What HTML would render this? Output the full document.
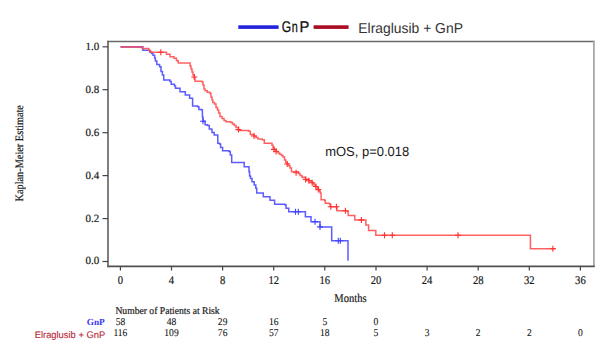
<!DOCTYPE html>
<html><head><meta charset="utf-8"><style>
html,body{margin:0;padding:0;background:#fff;}
body{width:606px;height:360px;overflow:hidden;position:relative;}
svg{position:absolute;left:0;top:0;text-rendering:geometricPrecision;}
.serif{font-family:"Liberation Serif",serif;}
.sans{font-family:"Liberation Sans",sans-serif;}
</style></head><body>
<svg width="606" height="360" viewBox="0 0 606 360">
<rect x="0" y="0" width="606" height="360" fill="#fff"/>
<g fill="none" stroke="#555" stroke-width="1.6">
<path d="M107.2,41.5 H594.5" stroke="#686868" stroke-width="1.5"/>
<path d="M593.9,40.8 V267" stroke="#a8a8a8" stroke-width="1.8"/>
<path d="M107.2,266.4 H594.7" stroke="#505050" stroke-width="1.6"/>
<path d="M108,40.8 V267.2" stroke="#686868" stroke-width="1.7"/>
</g>
<g fill="none" stroke="#444" stroke-width="1.2"><path d="M120.4,266.5v4"/><path d="M171.5,266.5v4"/><path d="M222.6,266.5v4"/><path d="M273.7,266.5v4"/><path d="M324.8,266.5v4"/><path d="M376.0,266.5v4"/><path d="M427.1,266.5v4"/><path d="M478.2,266.5v4"/><path d="M529.3,266.5v4"/><path d="M580.4,266.5v4"/><path d="M102.5,261.5h5.5"/><path d="M102.5,218.6h5.5"/><path d="M102.5,175.6h5.5"/><path d="M102.5,132.7h5.5"/><path d="M102.5,89.7h5.5"/><path d="M102.5,46.8h5.5"/></g>
<g class="serif" font-size="11.8" fill="#1a1a1a" stroke="#1a1a1a" stroke-width="0.2" text-anchor="middle"><text transform="translate(120.40,283.9) scale(0.9,1)">0</text><text transform="translate(171.51,283.9) scale(0.9,1)">4</text><text transform="translate(222.62,283.9) scale(0.9,1)">8</text><text transform="translate(273.74,283.9) scale(0.9,1)">12</text><text transform="translate(324.85,283.9) scale(0.9,1)">16</text><text transform="translate(375.96,283.9) scale(0.9,1)">20</text><text transform="translate(427.07,283.9) scale(0.9,1)">24</text><text transform="translate(478.18,283.9) scale(0.9,1)">28</text><text transform="translate(529.30,283.9) scale(0.9,1)">32</text><text transform="translate(580.41,283.9) scale(0.9,1)">36</text></g>
<g class="serif" font-size="11" fill="#1a1a1a" stroke="#1a1a1a" stroke-width="0.2" text-anchor="end"><text x="99.3" y="264.4">0.0</text><text x="99.3" y="221.5">0.2</text><text x="99.3" y="178.5">0.4</text><text x="99.3" y="135.6">0.6</text><text x="99.3" y="92.6">0.8</text><text x="99.3" y="49.7">1.0</text></g>
<text class="serif" transform="translate(350.4,301.5) scale(0.88,1)" font-size="12" fill="#1a1a1a" stroke="#1a1a1a" stroke-width="0.2" text-anchor="middle">Months</text>
<text class="serif" transform="translate(23.2,153.3) rotate(-90)" font-size="11.4" fill="#1a1a1a" stroke="#1a1a1a" stroke-width="0.2" text-anchor="middle" textLength="96.5" lengthAdjust="spacingAndGlyphs">Kaplan-Meier Estimate</text>
<g fill="none" stroke-linejoin="miter">
<path d="M120.6,46.85 H142.9 V50.3 H149.7 V52 H151.5 V53.6 H153 V55.3 H154.6 V58 H155.4 V61.1 H156.8 V64.6 H159.6 V66.7 H161 V71.5 H162.4 V75 H163.75 V80 H170 V81.5 H171.2 V84.2 H174.5 V86 H175.5 V88.3 H180 V91.7 H185.3 V95 H189.6 V98.3 H192.6 V106 H197.5 V106.7 H198.9 V109.4 H201.7 V110.1 H202.4 V117 H203 V121.25 H205.1 V124.7 H207.5 V125.5 H209.3 V128.9 H211.5 V129.5 H212 V132.4 H214.2 V135.1 H217.6 V135.8 H217.8 V143.2 H219.5 V144 H220.6 V147.4 H222.6 V150.8 H228.9 V151.5 H230.3 V155 H231.7 V162.5 H244.2 V166.8 H249 V171.7 H249.6 V176 H250.5 V178.6 H252 V181.7 H254.2 V185 H255.8 V188.3 H256.7 V193 H263.3 V196.7 H270 V200.3 H274.6 V204.2 H284.8 V204.7 H286 V208.2 H288.75 V211.7 H305.4 V216.8 H311 V221.7 H320 V226.9 H331.7 V240.8 H348 V260.8" stroke="#5c5cff" stroke-width="1.5"/>
<path d="M200,121.25h6M203,118.25v6 M292.5,211.7h6M295.5,208.7v6 M295.3,211.7h6M298.3,208.7v6 M312,221.7h6M315,218.7v6 M317,226.9h6M320,223.9v6 M335.3,240.8h6M338.3,237.8v6 M337.3,240.8h6M340.3,237.8v6" stroke="#4040ff" stroke-width="1.1"/>
<path d="M120.6,46.85 H142.2 V48.5 H148.8 V50.6 H150.5 V52.3 H166.5 V54.2 H170 V56.7 H174 V58.3 H176.5 V60.8 H178.3 V63 H190.1 V66 H191 V69 H192 V72 H193 V75 H194.3 V78 H195 V81.25 H202 V82 H203 V85 H204 V88.9 H205.1 V90.7 H207.2 V92.2 H210 V93.5 H211 V97 H212 V100 H212.8 V102.5 H214.5 V104 H216 V107.4 H217.5 V110 H218.7 V112.9 H220 V116.4 H222 V118.5 H224 V120.6 H226 V121.7 H230.8 V122.5 H232.5 V124 H234.3 V125.4 H236 V127.5 H238.5 V130.6 H248.9 V131.2 H250.3 V134.4 H254 V136 H256 V137.5 H258 V139 H262.2 V139.7 H264.3 V143.2 H269.9 V143.2 H272 V145.3 H273 V147.5 H274 V149.4 H276.1 V151.5 H278 V153 H279.6 V154.3 H281.5 V155.5 H283 V157 H284.5 V160 H285.8 V162.6 H287.2 V164 H288.5 V165.8 H290 V168 H291.5 V171.7 H298.5 V173.5 H300 V175.6 H302 V177.2 H305.6 V179.4 H309 V180.8 H311 V182 H312.5 V183.5 H314 V185 H315.8 V186.7 H317 V188 H318.5 V189.8 H319.5 V191.5 H320.3 V193 H321.1 V199.7 H324.6 V200.4 H325.3 V203.2 H329.4 V203.9 H330.3 V206.7 H336.9 V210.8 H347.5 V211.5 H348.2 V215.4 H354.8 V219.9 H365.9 V224.9 H368.6 V230.6 H375.8 V235.3 H530.4 V248.7 H555.4" stroke="#ff5050" stroke-width="1.5" stroke-opacity="0.9"/>
<path d="M157.8,52.3h6M160.8,49.3v6 M191.3,77h6M194.3,74v6 M235.5,129.6h6M238.5,126.6v6 M251,136h6M254,133v6 M271,149.4h6M274,146.4v6 M273.1,151.5h6M276.1,148.5v6 M284.2,164h6M287.2,161v6 M293.1,172.8h6M296.1,169.8v6 M302.6,179.4h6M305.6,176.4v6 M305.9,180.8h6M308.9,177.8v6 M309.2,182.8h6M312.2,179.8v6 M312.8,186.5h6M315.8,183.5v6 M315.3,189.6h6M318.3,186.6v6 M327.8,206.7h6M330.8,203.7v6 M333.4,206.7h6M336.4,203.7v6 M342.4,210.8h6M345.4,207.8v6 M358.4,219.9h6M361.4,216.9v6 M381.5,235.3h6M384.5,232.3v6 M389.3,235.3h6M392.3,232.3v6 M455,235.3h6M458,232.3v6 M549.9,248.7h6M552.9,245.7v6" stroke="#ff3030" stroke-width="1.1"/>
<path d="M120.6,46.85 H142.4" stroke="#d8507e" stroke-width="1.7"/>
</g>
<text class="sans" x="325.2" y="155.5" font-size="13.3" fill="#1a1a1a" textLength="84" lengthAdjust="spacingAndGlyphs">mOS, p=0.018</text>
<rect x="238.3" y="25.3" width="40.3" height="3.6" fill="#2222dd"/>
<g class="sans" font-size="15.5" fill="#111" stroke="#111" stroke-width="0.3"><text transform="translate(281.8,32) scale(0.78,1)">G</text><text transform="translate(291.8,32) scale(0.7,1)">n</text><text transform="translate(299.5,32) scale(0.95,1)">P</text></g>
<rect x="313.6" y="25.3" width="35" height="3.6" fill="#aa0a22"/>
<text class="sans" x="358.3" y="32.8" font-size="14.3" fill="#333" textLength="104.6" lengthAdjust="spacingAndGlyphs">Elraglusib + GnP</text>
<text class="serif" x="115.4" y="314.2" font-size="10.2" fill="#1a1a1a" stroke="#1a1a1a" stroke-width="0.2" textLength="104.3" lengthAdjust="spacingAndGlyphs">Number of Patients at Risk</text>
<g class="serif" font-size="10.4" fill="#111" stroke="#111" stroke-width="0.08" text-anchor="middle"><text transform="translate(120.40,324.9) scale(0.92,1)">58</text><text transform="translate(171.51,324.9) scale(0.92,1)">48</text><text transform="translate(222.62,324.9) scale(0.92,1)">29</text><text transform="translate(273.74,324.9) scale(0.92,1)">16</text><text transform="translate(324.85,324.9) scale(0.92,1)">5</text><text transform="translate(375.96,324.9) scale(0.92,1)">0</text><text transform="translate(120.40,336.4) scale(0.92,1)">116</text><text transform="translate(171.51,336.4) scale(0.92,1)">109</text><text transform="translate(222.62,336.4) scale(0.92,1)">76</text><text transform="translate(273.74,336.4) scale(0.92,1)">57</text><text transform="translate(324.85,336.4) scale(0.92,1)">18</text><text transform="translate(375.96,336.4) scale(0.92,1)">5</text><text transform="translate(427.07,336.4) scale(0.92,1)">3</text><text transform="translate(478.18,336.4) scale(0.92,1)">2</text><text transform="translate(529.30,336.4) scale(0.92,1)">2</text><text transform="translate(580.41,336.4) scale(0.92,1)">0</text></g>
<text class="serif" x="104.8" y="325.4" font-size="9.3" font-weight="bold" fill="#3838f0" text-anchor="end">GnP</text>
<text class="sans" x="105.2" y="338.4" font-size="9.6" fill="#b82a3c" stroke="#b82a3c" stroke-width="0.12" text-anchor="end" textLength="70.5" lengthAdjust="spacingAndGlyphs">Elraglusib + GnP</text>
</svg>
</body></html>
